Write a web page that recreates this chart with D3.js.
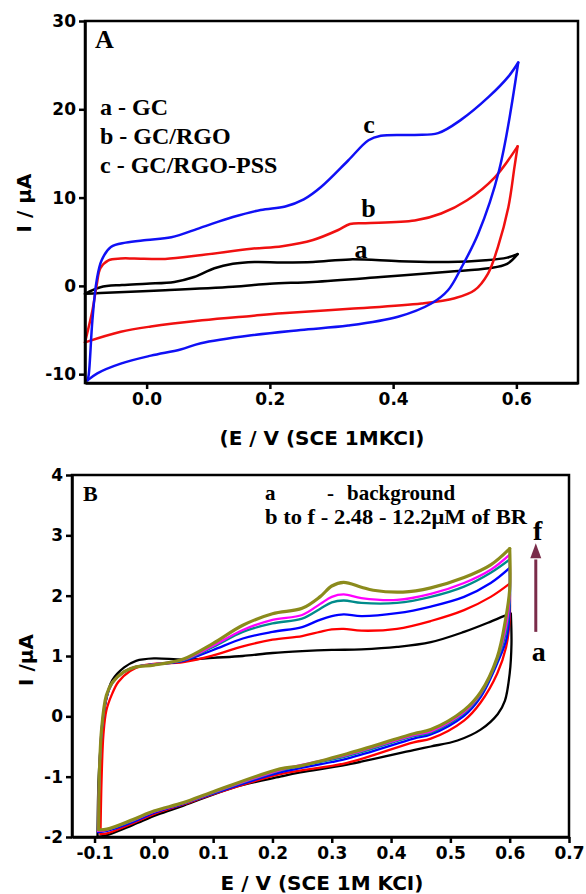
<!DOCTYPE html>
<html>
<head>
	<meta charset="utf-8">
	<title>Cyclic voltammograms</title>
	<script src="https://d3js.org/d3.v7.min.js"></script>
	<style>
		body { margin: 0; background: #fff; }
		svg { display: block; }
		/* axes are thick black lines as in the original figure */
		.axis path, .axis line { stroke: #000; stroke-width: 2.5px; }
		.axis text { font-family: "DejaVu Sans", sans-serif; font-weight: bold; font-size: 17px; fill: #000; }
		.frame { fill: none; stroke: #000; stroke-width: 2.5px; }
		.title { font-family: "DejaVu Sans", sans-serif; font-weight: bold; font-size: 20px; fill: #000; }
		.serif { font-family: "Liberation Serif", "Times New Roman", serif; font-weight: bold; fill: #000; }
		.cv { fill: none; stroke-linejoin: round; stroke-linecap: round; }
	</style>
</head>
<body>
<svg width="586" height="894"></svg>

<script>
	// ---------- Panel A data: [E (V), I (uA)], forward then reverse scan ----------
	var gcFwd = [[-0.1,-0.9],[-0.075,-0.15],[-0.04,0.1],[0.0,0.25],[0.045,0.45],[0.077,1.0],[0.11,2.0],[0.14,2.5],[0.175,2.7],[0.22,2.65],[0.27,2.7],[0.33,3.0],[0.41,2.8],[0.49,2.7],[0.55,2.9],[0.585,3.2],[0.602,3.6]];
	var gcRev = [[0.602,3.6],[0.585,2.5],[0.555,2.0],[0.49,1.6],[0.38,1.0],[0.27,0.45],[0.2,0.25],[0.14,-0.1],[0.03,-0.5],[-0.075,-0.8],[-0.1,-0.9]];

	var rgoFwd = [[-0.1,-6.4],[-0.088,-2.8],[-0.081,0.1],[-0.075,2.0],[-0.062,2.9],[-0.042,3.1],[-0.02,3.1],[0.03,3.05],[0.09,3.5],[0.17,4.2],[0.22,4.5],[0.27,5.2],[0.31,6.3],[0.33,7.0],[0.355,7.1],[0.435,7.4],[0.478,8.2],[0.52,9.7],[0.565,12.3],[0.602,15.8]];
	var rgoRev = [[0.602,15.8],[0.597,13.5],[0.587,8.9],[0.57,4.4],[0.554,1.4],[0.532,-0.5],[0.5,-1.4],[0.446,-2.0],[0.33,-2.6],[0.22,-3.1],[0.17,-3.4],[0.09,-3.9],[0.007,-4.6],[-0.042,-5.2],[-0.1,-6.4]];

	var pssFwd = [[-0.096,-10.7],[-0.094,-10.1],[-0.088,-3.9],[-0.081,0.65],[-0.073,2.9],[-0.058,4.4],[-0.034,4.9],[0.0,5.2],[0.04,5.5],[0.088,6.6],[0.14,7.8],[0.185,8.6],[0.225,9.0],[0.255,9.8],[0.283,11.2],[0.327,14.2],[0.36,16.5],[0.38,17.0],[0.435,17.1],[0.473,17.3],[0.51,18.8],[0.555,21.4],[0.587,23.7],[0.603,25.3]];
	var pssRev = [[0.603,25.3],[0.572,13.1],[0.538,5.9],[0.511,2.1],[0.489,-0.5],[0.462,-2.0],[0.408,-3.5],[0.327,-4.5],[0.25,-5.0],[0.17,-5.6],[0.088,-6.5],[0.055,-7.2],[0.007,-7.9],[-0.042,-8.8],[-0.08,-9.9],[-0.096,-10.7]];

	var seriesA = ["a", "b", "c"];
	var colorsA = ["#000000", "#f01010", "#1010f5"];
	var legendA = ["a - GC", "b - GC/RGO", "c - GC/RGO-PSS"];
	var xTicksA = [0.0, 0.2, 0.4, 0.6];
	var yTicksA = [-10, 0, 10, 20, 30];

	// ---------- Panel B data ----------
	var bgFwd = [[-0.095,-2.0],[-0.093,-1.0],[-0.088,-0.3],[-0.08,0.3],[-0.07,0.6],[-0.05,0.81],[-0.03,0.92],[0.0,0.96],[0.05,0.94],[0.1,0.97],[0.15,1.0],[0.2,1.05],[0.25,1.08],[0.3,1.1],[0.35,1.11],[0.41,1.15],[0.467,1.23],[0.523,1.4],[0.568,1.57],[0.59,1.66],[0.602,1.7]];
	var bgRev = [[0.602,1.7],[0.603,1.2],[0.6,0.71],[0.592,0.26],[0.58,0.04],[0.551,-0.22],[0.512,-0.4],[0.467,-0.5],[0.438,-0.56],[0.326,-0.8],[0.247,-0.93],[0.213,-1.0],[0.134,-1.18],[0.05,-1.48],[0.006,-1.63],[-0.035,-1.8],[-0.079,-1.97],[-0.095,-2.0]];

	var c1Fwd = [[-0.09,-1.95],[-0.088,-1.0],[-0.085,-0.3],[-0.08,0.1],[-0.07,0.38],[-0.06,0.57],[-0.04,0.75],[-0.02,0.84],[0.0,0.87],[0.05,0.9],[0.1,1.01],[0.15,1.16],[0.2,1.27],[0.25,1.33],[0.28,1.4],[0.3,1.44],[0.32,1.45],[0.35,1.42],[0.41,1.45],[0.467,1.58],[0.523,1.76],[0.568,1.98],[0.6,2.2]];
	var c1Rev = [[0.6,2.2],[0.6,1.6],[0.594,1.15],[0.579,0.71],[0.551,0.23],[0.523,-0.07],[0.467,-0.37],[0.438,-0.43],[0.326,-0.77],[0.213,-0.96],[0.1,-1.29],[0.05,-1.46],[0.0,-1.62],[-0.035,-1.77],[-0.079,-1.94],[-0.09,-1.95]];

	var c2Fwd = [[-0.094,-1.92],[-0.092,-1.0],[-0.088,-0.25],[-0.08,0.3],[-0.07,0.55],[-0.05,0.74],[-0.03,0.82],[0.0,0.86],[0.05,0.92],[0.1,1.1],[0.15,1.29],[0.2,1.4],[0.25,1.48],[0.28,1.6],[0.3,1.66],[0.32,1.69],[0.35,1.66],[0.41,1.71],[0.467,1.82],[0.523,1.98],[0.568,2.21],[0.6,2.46]];
	var c2Rev = [[0.6,2.46],[0.6,1.8],[0.595,1.3],[0.579,0.88],[0.551,0.32],[0.523,0.01],[0.467,-0.3],[0.438,-0.37],[0.326,-0.7],[0.213,-0.93],[0.1,-1.28],[0.05,-1.45],[0.0,-1.6],[-0.035,-1.75],[-0.079,-1.9],[-0.094,-1.92]];

	var c3Fwd = [[-0.094,-1.9],[-0.092,-1.0],[-0.088,-0.22],[-0.08,0.32],[-0.07,0.56],[-0.05,0.74],[-0.03,0.82],[0.0,0.86],[0.05,0.93],[0.1,1.15],[0.15,1.4],[0.2,1.54],[0.25,1.62],[0.28,1.78],[0.3,1.89],[0.32,1.92],[0.35,1.88],[0.41,1.88],[0.467,1.98],[0.523,2.15],[0.568,2.38],[0.6,2.6]];
	var c3Rev = [[0.6,2.6],[0.6,1.9],[0.594,1.4],[0.579,0.93],[0.551,0.36],[0.523,0.05],[0.467,-0.27],[0.438,-0.33],[0.326,-0.66],[0.213,-0.9],[0.1,-1.27],[0.05,-1.44],[0.0,-1.58],[-0.035,-1.73],[-0.079,-1.88],[-0.094,-1.9]];

	var c4Fwd = [[-0.094,-1.9],[-0.092,-1.0],[-0.088,-0.21],[-0.08,0.33],[-0.07,0.56],[-0.05,0.74],[-0.03,0.82],[0.0,0.86],[0.05,0.94],[0.1,1.17],[0.15,1.43],[0.2,1.6],[0.25,1.68],[0.28,1.86],[0.3,1.98],[0.32,2.02],[0.35,1.96],[0.41,1.93],[0.467,2.03],[0.523,2.21],[0.568,2.43],[0.6,2.68]];
	var c4Rev = [[0.6,2.68],[0.6,2.0],[0.594,1.5],[0.579,0.96],[0.551,0.38],[0.523,0.07],[0.467,-0.25],[0.438,-0.31],[0.326,-0.64],[0.213,-0.89],[0.1,-1.26],[0.05,-1.44],[0.0,-1.58],[-0.035,-1.72],[-0.079,-1.88],[-0.094,-1.9]];

	var c5Fwd = [[-0.093,-1.88],[-0.092,-1.0],[-0.088,-0.2],[-0.08,0.35],[-0.07,0.56],[-0.05,0.74],[-0.03,0.82],[0.0,0.85],[0.05,0.95],[0.1,1.21],[0.15,1.51],[0.2,1.7],[0.25,1.79],[0.28,1.98],[0.3,2.16],[0.32,2.22],[0.35,2.14],[0.37,2.09],[0.42,2.06],[0.467,2.13],[0.523,2.3],[0.568,2.51],[0.6,2.78]];
	var c5Rev = [[0.6,2.78],[0.6,2.1],[0.593,1.6],[0.579,0.98],[0.551,0.4],[0.523,0.1],[0.467,-0.22],[0.438,-0.29],[0.326,-0.62],[0.247,-0.82],[0.213,-0.87],[0.1,-1.25],[0.05,-1.43],[0.0,-1.57],[-0.035,-1.71],[-0.079,-1.87],[-0.093,-1.88]];

	var seriesB = ["a", "b", "c", "d", "e", "f"];
	var colorsB = ["#000000", "#ff0000", "#0000ff", "#008b8b", "#ff00ff", "#8b8b1c"];
	var xTicksB = [-0.1, 0.0, 0.1, 0.2, 0.3, 0.4, 0.5, 0.6, 0.7];
	var yTicksB = [-2, -1, 0, 1, 2, 3, 4];

	var svg = d3.select("svg");

	// draws the frame, axes and the cv loops of one panel, returns the scales
	function drawPanel(p) {
		var x = d3.scaleLinear().domain(p.xDomain).range([p.left, p.right]);
		var y = d3.scaleLinear().domain(p.yDomain).range([p.bottom, p.top]);
		var g = svg.append("g");

		var line = d3.line()
			.x(function(d) { return x(d[0]); })
			.y(function(d) { return y(d[1]); })
			.curve(d3.curveCatmullRom.alpha(0.5));

		p.curves.forEach(function(c, i) {
			[c[0], c[1]].forEach(function(seg) {
				g.append("path")
					.attr("class", "cv")
					.attr("d", line(seg))
					.attr("stroke", p.colors[i])
					.attr("stroke-width", p.widths[i]);
			});
		});

		g.append("rect")
			.attr("class", "frame")
			.attr("x", p.left).attr("y", p.top)
			.attr("width", p.right - p.left).attr("height", p.bottom - p.top);

		g.append("g")
			.attr("class", "axis")
			.attr("transform", "translate(0," + p.bottom + ")")
			.call(d3.axisBottom(x).tickValues(p.xTicks).tickSize(6).tickSizeOuter(0).tickPadding(4)
				.tickFormat(function(d) { return d.toFixed(1); }));

		g.append("g")
			.attr("class", "axis")
			.attr("transform", "translate(" + p.left + ",0)")
			.call(d3.axisLeft(y).tickValues(p.yTicks).tickSize(6).tickSizeOuter(0).tickPadding(3)
				.tickFormat(function(d) { return String(d); }));

		return {x: x, y: y, g: g};
	}

	// ---------- Panel A ----------
	var A = drawPanel({
		left: 85, right: 578, top: 21, bottom: 383,
		xDomain: [-0.1, 0.7], yDomain: [-11, 30],
		xTicks: xTicksA, yTicks: yTicksA,
		curves: [[gcFwd, gcRev], [rgoFwd, rgoRev], [pssFwd, pssRev]],
		colors: colorsA, widths: [2.5, 2.5, 2.5]
	});

	A.g.append("text").attr("class", "serif").attr("x", 95).attr("y", 48)
		.style("font-size", "26px").text("A");

	A.g.selectAll(".legA")
		.data(legendA)
		.enter().append("text")
		.attr("class", "serif legA")
		.attr("x", 100)
		.attr("y", function(d, i) { return 115 + i * 29; })
		.style("font-size", "24px")
		.text(function(d) { return d; });

	// curve letters next to the oxidation humps
	var labelPosA = [[0.348, 4.2], [0.36, 8.8], [0.361, 18.4]];
	A.g.selectAll(".labA")
		.data(seriesA)
		.enter().append("text")
		.attr("class", "serif labA")
		.attr("x", function(d, i) { return A.x(labelPosA[i][0]); })
		.attr("y", function(d, i) { return A.y(labelPosA[i][1]); })
		.attr("dy", "0.35em")
		.attr("text-anchor", "middle")
		.style("font-size", "26px")
		.text(function(d) { return d; });

	svg.append("text").attr("class", "title")
		.attr("x", 322).attr("y", 445).attr("text-anchor", "middle")
		.text("(E / V (SCE 1MKCI)");
	svg.append("text").attr("class", "title")
		.attr("transform", "translate(31,203) rotate(-90)").attr("text-anchor", "middle")
		.text("I / \u03bcA");

	// ---------- Panel B ----------
	var B = drawPanel({
		left: 72, right: 569, top: 475, bottom: 837,
		xDomain: [-0.138, 0.7], yDomain: [-2, 4],
		xTicks: xTicksB, yTicks: yTicksB,
		curves: [[bgFwd, bgRev], [c1Fwd, c1Rev], [c2Fwd, c2Rev], [c3Fwd, c3Rev], [c4Fwd, c4Rev], [c5Fwd, c5Rev]],
		colors: colorsB, widths: [2.3, 2.3, 2.3, 2.3, 2.3, 3.2]
	});

	B.g.append("text").attr("class", "serif").attr("x", 83).attr("y", 501)
		.style("font-size", "22px").text("B");

	// legend: background line and concentration range
	B.g.append("text").attr("class", "serif").attr("x", 265).attr("y", 500).style("font-size", "21px").text("a");
	B.g.append("text").attr("class", "serif").attr("x", 327).attr("y", 500).style("font-size", "21px").text("-");
	B.g.append("text").attr("class", "serif").attr("x", 347).attr("y", 500).style("font-size", "21px").text("background");
	B.g.append("text").attr("class", "serif").attr("x", 265).attr("y", 524).style("font-size", "21px")
		.attr("textLength", 262).attr("lengthAdjust", "spacingAndGlyphs")
		.text("b to f - 2.48 - 12.2\u03bcM of BR");

	// arrow from a (background) up to f
	var arrowX = B.x(0.644);
	B.g.append("line")
		.attr("x1", arrowX).attr("x2", arrowX)
		.attr("y1", B.y(1.4)).attr("y2", B.y(2.6))
		.attr("stroke", "#7a2c4a").attr("stroke-width", 3);
	B.g.append("path")
		.attr("d", "M" + arrowX + "," + B.y(2.87) + "L" + (arrowX - 5.5) + "," + B.y(2.62) + "L" + (arrowX + 5.5) + "," + B.y(2.62) + "Z")
		.attr("fill", "#7a2c4a");
	B.g.append("text").attr("class", "serif").attr("x", arrowX + 2).attr("y", 540)
		.attr("text-anchor", "middle").style("font-size", "28px").text(seriesB[5]);
	B.g.append("text").attr("class", "serif").attr("x", arrowX + 3).attr("y", 661)
		.attr("text-anchor", "middle").style("font-size", "28px").text(seriesB[0]);

	svg.append("text").attr("class", "title")
		.attr("x", 322).attr("y", 890).attr("text-anchor", "middle")
		.text("E / V (SCE 1M KCI)");
	svg.append("text").attr("class", "title")
		.attr("transform", "translate(33,660) rotate(-90)").attr("text-anchor", "middle")
		.text("I /\u03bcA");
</script>
</body>
</html>
